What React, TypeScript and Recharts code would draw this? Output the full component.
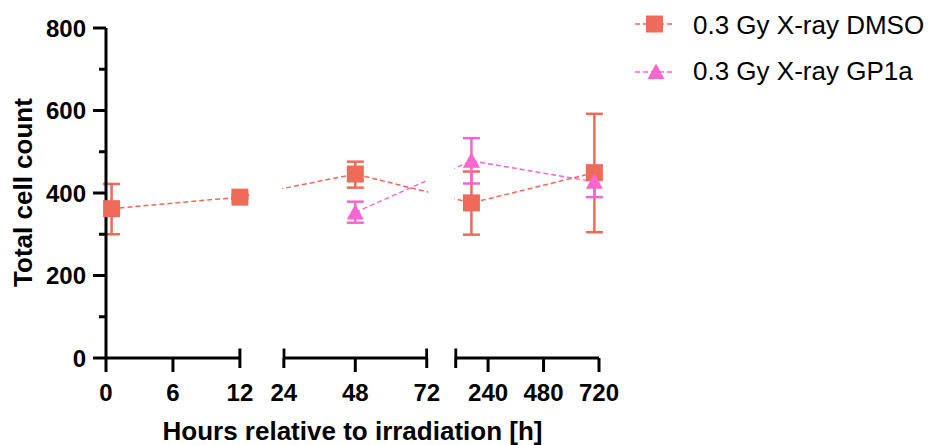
import React from 'react';
import {
  ComposedChart,
  Line,
  XAxis,
  YAxis,
  ErrorBar,
  ReferenceArea,
  ReferenceLine,
  Legend,
} from 'recharts';

// hours after irradiation, mean cell count, error (low / high)
const dmsoHours = [0.5, 12, 48, 168, 700];
const dmsoMean = [362, 390, 446, 376, 449];
const dmsoErrLow = [62, 4, 33, 77, 144];
const dmsoErrHigh = [60, 4, 30, 76, 143];

const gp1aHours = [48, 168, 700];
const gp1aMean = [353, 478, 427];
const gp1aErrLow = [25, 55, 37];
const gp1aErrHigh = [26, 55, 39];

const xTickHours = [0, 6, 12, 24, 48, 72, 100, 240, 480, 720];
const xTickLabels = ['0', '6', '12', '24', '48', '72', '', '240', '480', '720'];
const xCapHours = [12, 24, 72, 100];

const yTicks = [0, 100, 200, 300, 400, 500, 600, 700, 800];

const DMSO_COLOR = '#EE6A59';
const GP1A_COLOR = '#F966D0';
const FONT = '"Liberation Sans", Arial, sans-serif';
const MARKER = 17;

// broken x axis: each segment of hours is drawn over its own stretch of the axis
const segments = [
  { from: 0, to: 12, left: 0, right: 134 },
  { from: 24, to: 72, left: 178, right: 321 },
  { from: 100, to: 720, left: 350, right: 493.4 },
];

function toU(h: number) {
  for (let i = 0; i < segments.length; i++) {
    const s = segments[i];
    if (h <= s.to) {
      if (h >= s.from || i === 0) {
        return s.left + ((h - s.from) / (s.to - s.from)) * (s.right - s.left);
      }
      const p = segments[i - 1];
      return p.right + ((h - p.to) / (s.from - p.to)) * (s.left - p.right);
    }
  }
  return segments[segments.length - 1].right;
}

const buildRows = (hours: number[], mean: number[], lo: number[], hi: number[]) =>
  hours.map((h, i) => ({ u: toU(h), value: mean[i], err: [lo[i], hi[i]] }));

const dmsoData = buildRows(dmsoHours, dmsoMean, dmsoErrLow, dmsoErrHigh);
const gp1aData = buildRows(gp1aHours, gp1aMean, gp1aErrLow, gp1aErrHigh);

// white boxes hiding the connecting lines inside the axis breaks,
// kept clear of any marker that sits at the edge of a break
const allU = [...dmsoData, ...gp1aData].map((d) => d.u);
const gapMasks = segments.slice(1).map((s, i) => {
  const prev = segments[i];
  let x1 = prev.right + 1.5;
  let x2 = s.left - 1.5;
  allU.forEach((u) => {
    if (u <= prev.right + 0.01 && u + MARKER / 2 + 1 > x1) x1 = u + MARKER / 2 + 1;
    if (u >= s.left - 0.01 && u - MARKER / 2 - 1 < x2) x2 = u - MARKER / 2 - 1;
  });
  return { x1, x2 };
});

const SquareDot = (props: any) => {
  const { cx, cy, index } = props;
  if (cx == null || cy == null) return <g key={`sq-${index}`} />;
  return (
    <rect
      key={`sq-${index}`}
      x={cx - MARKER / 2}
      y={cy - MARKER / 2}
      width={MARKER}
      height={MARKER}
      fill={DMSO_COLOR}
    />
  );
};

const TriangleDot = (props: any) => {
  const { cx, cy, index } = props;
  if (cx == null || cy == null) return <g key={`tr-${index}`} />;
  return (
    <polygon
      key={`tr-${index}`}
      points={`${cx},${cy - 8.5} ${cx - 8.5},${cy + 7} ${cx + 8.5},${cy + 7}`}
      fill={GP1A_COLOR}
    />
  );
};

const XTick = (props: any) => {
  const { x, y, payload } = props;
  const i = xTickHours.findIndex((h) => Math.abs(toU(h) - payload.value) < 0.01);
  const isCap = xCapHours.includes(xTickHours[i]);
  return (
    <g>
      {isCap ? (
        <line x1={x} x2={x} y1={y - 9.5} y2={y + 10} stroke="#000" strokeWidth={3} />
      ) : (
        <line x1={x} x2={x} y1={y} y2={y + 14} stroke="#000" strokeWidth={3} />
      )}
      <text x={x} y={y + 43} textAnchor="middle" fontFamily={FONT} fontWeight="bold" fontSize={24} fill="#000">
        {xTickLabels[i]}
      </text>
    </g>
  );
};

const YTick = (props: any) => {
  const { x, y, payload } = props;
  const major = payload.value % 200 === 0;
  return (
    <g>
      <line x1={x - (major ? 13 : 7)} x2={x} y1={y} y2={y} stroke="#000" strokeWidth={3} />
      {major && (
        <text x={x - 20} y={y + 8.6} textAnchor="end" fontFamily={FONT} fontWeight="bold" fontSize={24} fill="#000">
          {payload.value}
        </text>
      )}
    </g>
  );
};

const LegendBox = () => (
  <svg width={300} height={100} style={{ display: 'block' }}>
    <g transform="translate(-630,0)">
      <line x1={635} x2={673} y1={24} y2={24} stroke={DMSO_COLOR} strokeWidth={1.5} strokeDasharray="5 3" />
      <rect x={646} y={15.5} width={17} height={17} fill={DMSO_COLOR} />
      <text x={693} y={34} fontFamily={FONT} fontSize={26} fill="#000">0.3 Gy X-ray DMSO</text>
      <line x1={635} x2={673} y1={72} y2={72} stroke={GP1A_COLOR} strokeWidth={1.5} strokeDasharray="5 3" />
      <polygon points="656,63.5 647.5,79 664.5,79" fill={GP1A_COLOR} />
      <text x={693} y={80} fontFamily={FONT} fontSize={26} fill="#000">0.3 Gy X-ray GP1a</text>
    </g>
  </svg>
);

export default function App() {
  return (
    <div style={{ position: 'absolute', left: 0, top: 0, width: 930, height: 445, background: '#fff' }}>
      <ComposedChart width={930} height={445} margin={{ top: 28, right: 331, bottom: 0, left: 0 }}>
        <XAxis
          type="number"
          dataKey="u"
          domain={[0, toU(720)]}
          ticks={xTickHours.map(toU)}
          interval={0}
          height={87}
          axisLine={false}
          tickLine={false}
          tickSize={0}
          tickMargin={0}
          tick={<XTick />}
          label={{
            value: 'Hours relative to irradiation [h]',
            position: 'insideBottom',
            offset: 5,
            fontFamily: FONT,
            fontWeight: 'bold',
            fontSize: 26,
            fill: '#000',
          }}
        />
        <YAxis
          type="number"
          domain={[0, 800]}
          ticks={yTicks}
          interval={0}
          width={106}
          axisLine={{ stroke: '#000', strokeWidth: 3 }}
          tickLine={false}
          tickSize={0}
          tickMargin={0}
          tick={<YTick />}
          label={{
            content: () => (
              <text
                x={-192.5}
                y={32}
                transform="rotate(-90)"
                textAnchor="middle"
                fontFamily={FONT}
                fontWeight="bold"
                fontSize={26}
                fill="#000"
              >
                Total cell count
              </text>
            ),
          }}
        />
        {segments.map((s, i) => (
          <ReferenceLine
            key={`seg-${i}`}
            segment={[
              { x: toU(s.from), y: 0 },
              { x: toU(s.to), y: 0 },
            ]}
            stroke="#000"
            strokeWidth={3}
            ifOverflow="visible"
          />
        ))}
        <Line
          data={dmsoData}
          dataKey="value"
          name="0.3 Gy X-ray DMSO"
          stroke={DMSO_COLOR}
          strokeWidth={1.5}
          strokeDasharray="5 3"
          dot={SquareDot}
          activeDot={false}
          isAnimationActive={false}
        >
          <ErrorBar dataKey="err" direction="y" width={8.5} stroke={DMSO_COLOR} strokeWidth={2.5} />
        </Line>
        <Line
          data={gp1aData}
          dataKey="value"
          name="0.3 Gy X-ray GP1a"
          stroke={GP1A_COLOR}
          strokeWidth={1.5}
          strokeDasharray="5 3"
          dot={TriangleDot}
          activeDot={false}
          isAnimationActive={false}
        >
          <ErrorBar dataKey="err" direction="y" width={8.5} stroke={GP1A_COLOR} strokeWidth={2.5} />
        </Line>
        {gapMasks.map((g, i) => (
          <ReferenceArea
            key={`gap-${i}`}
            x1={g.x1}
            x2={g.x2}
            y1={0}
            y2={800}
            fill="#fff"
            fillOpacity={1}
            stroke="none"
            ifOverflow="visible"
            {...({ zIndex: 2000 } as any)}
          />
        ))}
        <Legend
          layout="vertical"
          align="center"
          verticalAlign="middle"
          wrapperStyle={{ left: 630, top: 0, width: 300, height: 100 }}
          content={<LegendBox />}
        />
      </ComposedChart>
    </div>
  );
}
